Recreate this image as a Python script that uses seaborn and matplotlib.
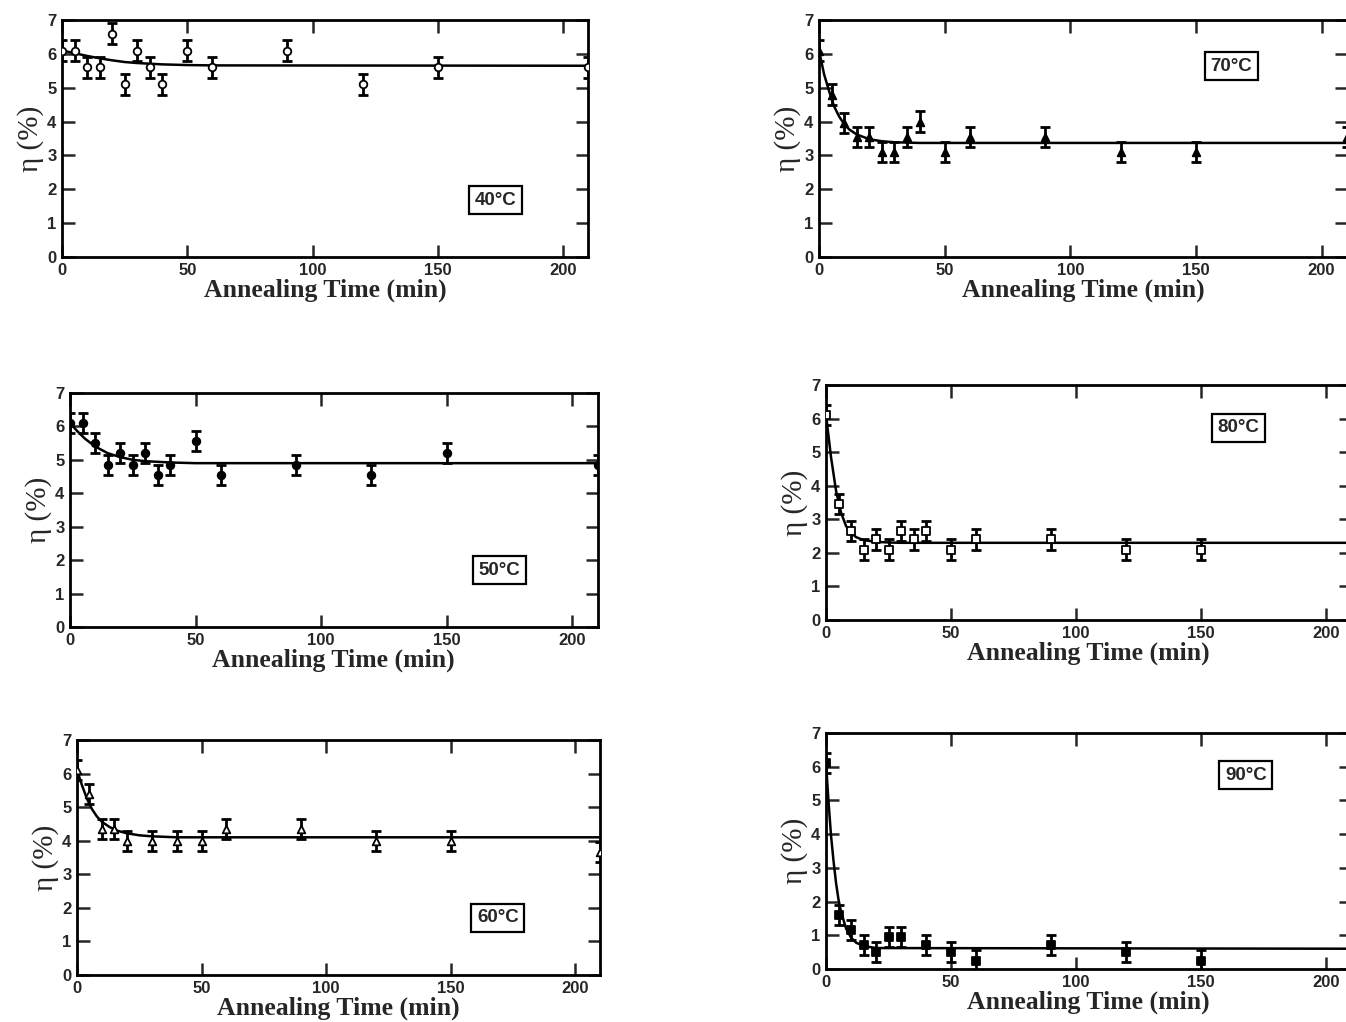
import matplotlib
matplotlib.use('Agg')
import matplotlib.pyplot as plt
import numpy as np
import pandas as pd
import seaborn as sns

sns.set_style('ticks')
plt.rcParams['font.family'] = ['Liberation Sans', 'DejaVu Sans']

# measured points (annealing time in min, eta in %)
t_40 = [0, 5, 10, 15, 20, 25, 30, 35, 40, 50, 60, 90, 120, 150, 210]
eta_40 = [6.1, 6.1, 5.6, 5.6, 6.6, 5.1, 6.1, 5.6, 5.1, 6.1, 5.6, 6.1, 5.1, 5.6, 5.6]

t_70 = [0, 5, 10, 15, 20, 25, 30, 35, 40, 50, 60, 90, 120, 150, 210]
eta_70 = [6.1, 4.8, 3.95, 3.55, 3.55, 3.1, 3.1, 3.55, 4.0, 3.1, 3.55, 3.55, 3.1, 3.1, 3.55]

t_50 = [0, 5, 10, 15, 20, 25, 30, 35, 40, 50, 60, 90, 120, 150, 210]
eta_50 = [6.1, 6.1, 5.5, 4.85, 5.2, 4.85, 5.2, 4.55, 4.85, 5.55, 4.55, 4.85, 4.55, 5.2, 4.85]

t_80 = [0, 5, 10, 15, 20, 25, 30, 35, 40, 50, 60, 90, 120, 150, 210]
eta_80 = [6.1, 3.45, 2.65, 2.1, 2.4, 2.1, 2.65, 2.4, 2.65, 2.1, 2.4, 2.4, 2.1, 2.1, 2.3]

t_60 = [0, 5, 10, 15, 20, 30, 40, 50, 60, 90, 120, 150, 210]
eta_60 = [6.1, 5.4, 4.35, 4.35, 4.0, 4.0, 4.0, 4.0, 4.35, 4.35, 4.0, 4.0, 3.65]

t_90 = [0, 5, 10, 15, 20, 25, 30, 40, 50, 60, 90, 120, 150]
eta_90 = [6.1, 1.6, 1.15, 0.7, 0.5, 0.95, 0.95, 0.7, 0.5, 0.25, 0.7, 0.5, 0.25]

err = 0.3

# fitted curves, points
fit_t_40 = [0, 5, 10, 15, 20, 25, 30, 40, 50, 60, 210]
fit_eta_40 = [6.1, 6.02, 5.94, 5.87, 5.81, 5.76, 5.73, 5.69, 5.67, 5.66, 5.65]
fit_t_70 = [0, 2, 4, 6, 8, 10, 12, 15, 20, 25, 30, 40, 210]
fit_eta_70 = [6.1, 5.4, 4.9, 4.45, 4.15, 3.93, 3.77, 3.62, 3.48, 3.42, 3.39, 3.37, 3.37]
fit_t_50 = [0, 3, 6, 10, 15, 20, 25, 30, 40, 50, 210]
fit_eta_50 = [6.1, 5.85, 5.63, 5.4, 5.2, 5.08, 5.0, 4.96, 4.92, 4.9, 4.9]
fit_t_80 = [0, 2, 4, 6, 8, 10, 12, 15, 20, 25, 30, 210]
fit_eta_80 = [6.1, 4.85, 3.85, 3.2, 2.8, 2.6, 2.47, 2.38, 2.33, 2.31, 2.3, 2.3]
fit_t_60 = [0, 2, 4, 6, 8, 10, 13, 16, 20, 25, 30, 40, 210]
fit_eta_60 = [6.1, 5.65, 5.25, 4.94, 4.72, 4.56, 4.41, 4.3, 4.22, 4.16, 4.13, 4.1, 4.1]
fit_t_90 = [0, 1, 2, 3, 4, 5, 6, 8, 10, 12, 15, 20, 210]
fit_eta_90 = [6.1, 4.95, 3.95, 3.2, 2.55, 2.05, 1.7, 1.2, 0.93, 0.78, 0.68, 0.62, 0.6]

panels = [
    ('40°C', t_40, eta_40, fit_t_40, fit_eta_40, 'o', 'white', [0.0461, 0.7485, 0.3908, 0.2319], (173, 1.68)),
    ('70°C', t_70, eta_70, fit_t_70, fit_eta_70, '^', 'black', [0.6085, 0.7485, 0.3920, 0.2319], (164, 5.64)),
    ('50°C', t_50, eta_50, fit_t_50, fit_eta_50, 'o', 'black', [0.0520, 0.3865, 0.3920, 0.2290], (171, 1.70)),
    ('80°C', t_80, eta_80, fit_t_80, fit_eta_80, 's', 'white', [0.6137, 0.3933, 0.3900, 0.2300], (165, 5.72)),
    ('60°C', t_60, eta_60, fit_t_60, fit_eta_60, '^', 'white', [0.0572, 0.0460, 0.3886, 0.2300], (169, 1.70)),
    ('90°C', t_90, eta_90, fit_t_90, fit_eta_90, 's', 'black', [0.6137, 0.0519, 0.3900, 0.2310], (168, 5.75)),
]

fig = plt.figure(figsize=(13.46, 10.22), dpi=100)

for label, t, eta, ft, fe, marker, face, pos, box in panels:
    ax = fig.add_axes(pos)
    df = pd.DataFrame({'t': t, 'eta': eta})
    fit = pd.DataFrame({'t': ft, 'eta': fe})

    sns.lineplot(data=fit, x='t', y='eta', ax=ax, color='black', lw=1.8, sort=False)
    ax.errorbar(df['t'], df['eta'], yerr=err, fmt='none', ecolor='black',
                elinewidth=2.0, capsize=3.5, capthick=2.0, zorder=3)
    sns.scatterplot(data=df, x='t', y='eta', ax=ax, marker=marker, s=30,
                    facecolor=face, edgecolor='black', linewidth=1.3, zorder=4)

    ax.set_xlim(0, 210)
    ax.set_ylim(0, 7)
    ax.set_xticks([0, 50, 100, 150, 200])
    ax.set_yticks(range(8))
    ax.tick_params(direction='in', length=9, width=1.8, top=True, right=True,
                   labelsize=12, pad=4)
    for lab in ax.get_xticklabels() + ax.get_yticklabels():
        lab.set_fontweight('bold')
    for sp in ax.spines.values():
        sp.set_linewidth(2.0)
        sp.set_color('black')

    ax.set_xlabel('Annealing Time (min)', family=['Liberation Serif', 'DejaVu Serif'],
                  fontweight='bold', fontsize=18.5, labelpad=1)
    ax.set_ylabel('η (%)', family=['Liberation Serif', 'DejaVu Serif'],
                  fontsize=21, labelpad=2)

    ax.text(box[0], box[1], label, ha='center', va='center', fontsize=13.5,
            fontweight='bold',
            bbox=dict(boxstyle='square,pad=0.3', facecolor='white',
                      edgecolor='black', linewidth=1.6))

fig.savefig('out.png', dpi=100)
